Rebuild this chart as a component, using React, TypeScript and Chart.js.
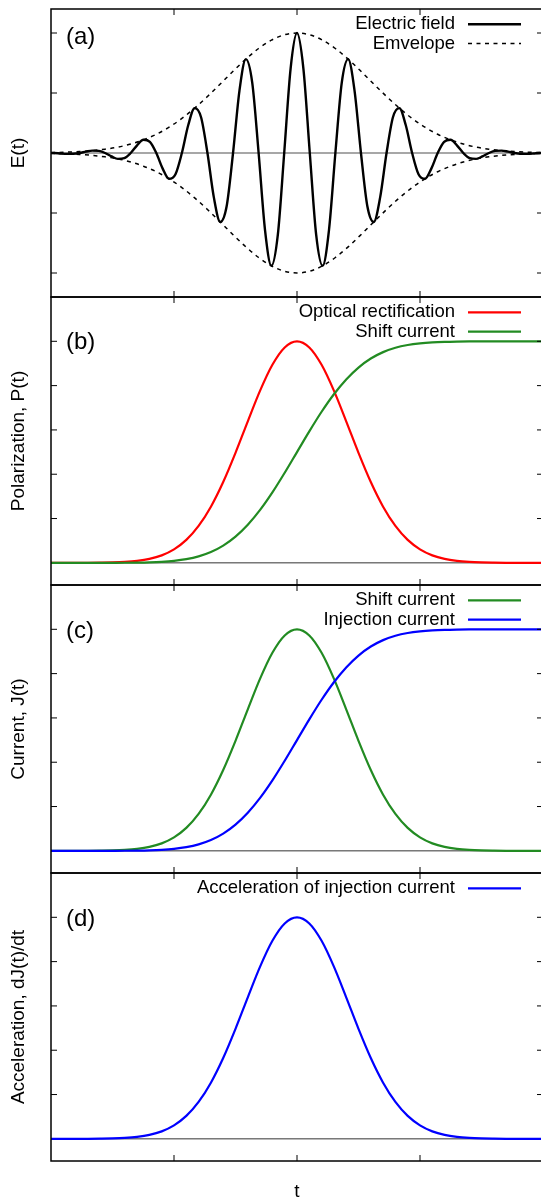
import React, { useEffect, useRef } from "react";
import { Chart, registerables } from "chart.js";

Chart.register(...registerables);

// ---------------- data ----------------
const xTickValues = [-1, 0, 1];
const yTicksField = [-1, -0.5, 0.5, 1];
const yTicksLower = [0.2, 0.4, 0.6, 0.8, 1.0];

const tField = [
  -2, -1.976, -1.924, -1.872, -1.82, -1.768, -1.716, -1.664, -1.612, -1.56,
  -1.508, -1.456, -1.404, -1.352, -1.3, -1.248, -1.196, -1.144, -1.092, -1.04,
  -0.988, -0.936, -0.884, -0.832, -0.78, -0.728, -0.676, -0.624, -0.572, -0.52,
  -0.468, -0.416, -0.364, -0.312, -0.26, -0.208, -0.156, -0.104, -0.052, 0,
  0.052, 0.104, 0.156, 0.208, 0.26, 0.312, 0.364, 0.416, 0.468, 0.52,
  0.572, 0.624, 0.676, 0.728, 0.78, 0.832, 0.884, 0.936, 0.988, 1.04,
  1.092, 1.144, 1.196, 1.248, 1.3, 1.352, 1.404, 1.456, 1.508, 1.56,
  1.612, 1.664, 1.716, 1.768, 1.82, 1.872, 1.924, 1.976, 2,
];

const electricField = [
  0, 0, -0.004, -0.007, -0.006, 0, 0.011, 0.02, 0.018, 0,
  -0.028, -0.049, -0.043, 0, 0.064, 0.11, 0.093, 0, -0.13, -0.215,
  -0.177, 0, 0.233, 0.374, 0.298, 0, -0.37, -0.575, -0.444, 0,
  0.518, 0.782, 0.586, 0, -0.642, -0.94, -0.683, 0, 0.704, 1,
  0.704, 0, -0.683, -0.94, -0.642, 0, 0.586, 0.782, 0.518, 0,
  -0.444, -0.575, -0.37, 0, 0.298, 0.374, 0.233, 0, -0.177, -0.215,
  -0.13, 0, 0.093, 0.11, 0.064, 0, -0.043, -0.049, -0.028, 0,
  0.018, 0.02, 0.011, 0, -0.006, -0.007, -0.004, 0, 0,
];

const tEnvelope = [
  -2, -1.872, -1.768, -1.664, -1.56, -1.456, -1.352, -1.248, -1.144, -1.04,
  -0.936, -0.832, -0.728, -0.624, -0.52, -0.416, -0.312, -0.208, -0.104, 0,
  0.104, 0.208, 0.312, 0.416, 0.52, 0.624, 0.728, 0.832, 0.936, 1.04,
  1.144, 1.248, 1.352, 1.456, 1.56, 1.664, 1.768, 1.872, 2,
];

const envelopeUpper = [
  0.003, 0.007, 0.012, 0.02, 0.032, 0.049, 0.075, 0.11, 0.156, 0.215,
  0.288, 0.374, 0.471, 0.575, 0.681, 0.782, 0.871, 0.94, 0.985, 1,
  0.985, 0.94, 0.871, 0.782, 0.681, 0.575, 0.471, 0.374, 0.288, 0.215,
  0.156, 0.11, 0.075, 0.049, 0.032, 0.02, 0.012, 0.007, 0.003,
];

const envelopeLower = [
  -0.003, -0.007, -0.012, -0.02, -0.032, -0.049, -0.075, -0.11, -0.156, -0.215,
  -0.288, -0.374, -0.471, -0.575, -0.681, -0.782, -0.871, -0.94, -0.985, -1,
  -0.985, -0.94, -0.871, -0.782, -0.681, -0.575, -0.471, -0.374, -0.288, -0.215,
  -0.156, -0.11, -0.075, -0.049, -0.032, -0.02, -0.012, -0.007, -0.003,
];

const tGrid = [
  -2, -1.9, -1.8, -1.7, -1.6, -1.5, -1.4, -1.3, -1.2, -1.1,
  -1, -0.9, -0.8, -0.7, -0.6, -0.5, -0.4, -0.3, -0.2, -0.1,
  0, 0.1, 0.2, 0.3, 0.4, 0.5, 0.6, 0.7, 0.8, 0.9,
  1, 1.1, 1.2, 1.3, 1.4, 1.5, 1.6, 1.7, 1.8, 1.9, 2,
];

const opticalRectification = [
  0, 0, 0.0001, 0.0003, 0.0008, 0.0018, 0.0041, 0.0088, 0.0177, 0.0338,
  0.0608, 0.1035, 0.1666, 0.2536, 0.3649, 0.4966, 0.6389, 0.7773, 0.894, 0.9724,
  1, 0.9724, 0.894, 0.7773, 0.6389, 0.4966, 0.3649, 0.2536, 0.1666, 0.1035,
  0.0608, 0.0338, 0.0177, 0.0088, 0.0041, 0.0018, 0.0008, 0.0003, 0.0001, 0, 0,
];

const shiftPolarization = [
  0, 0, 0, 0, 0.0001, 0.0002, 0.0004, 0.001, 0.0022, 0.0046,
  0.0091, 0.0167, 0.0292, 0.0488, 0.0778, 0.1184, 0.172, 0.2389, 0.318, 0.4065,
  0.5, 0.5935, 0.682, 0.7611, 0.828, 0.8816, 0.9222, 0.9512, 0.9708, 0.9833,
  0.9909, 0.9954, 0.9978, 0.999, 0.9996, 0.9998, 0.9999, 1, 1, 1, 1,
];

const shiftCurrent = [
  0, 0, 0.0001, 0.0003, 0.0008, 0.0018, 0.0041, 0.0088, 0.0177, 0.0338,
  0.0608, 0.1035, 0.1666, 0.2536, 0.3649, 0.4966, 0.6389, 0.7773, 0.894, 0.9724,
  1, 0.9724, 0.894, 0.7773, 0.6389, 0.4966, 0.3649, 0.2536, 0.1666, 0.1035,
  0.0608, 0.0338, 0.0177, 0.0088, 0.0041, 0.0018, 0.0008, 0.0003, 0.0001, 0, 0,
];

const injectionCurrent = [
  0, 0, 0, 0, 0.0001, 0.0002, 0.0004, 0.001, 0.0022, 0.0046,
  0.0091, 0.0167, 0.0292, 0.0488, 0.0778, 0.1184, 0.172, 0.2389, 0.318, 0.4065,
  0.5, 0.5935, 0.682, 0.7611, 0.828, 0.8816, 0.9222, 0.9512, 0.9708, 0.9833,
  0.9909, 0.9954, 0.9978, 0.999, 0.9996, 0.9998, 0.9999, 1, 1, 1, 1,
];

const injectionAcceleration = [
  0, 0, 0.0001, 0.0003, 0.0008, 0.0018, 0.0041, 0.0088, 0.0177, 0.0338,
  0.0608, 0.1035, 0.1666, 0.2536, 0.3649, 0.4966, 0.6389, 0.7773, 0.894, 0.9724,
  1, 0.9724, 0.894, 0.7773, 0.6389, 0.4966, 0.3649, 0.2536, 0.1666, 0.1035,
  0.0608, 0.0338, 0.0177, 0.0088, 0.0041, 0.0018, 0.0008, 0.0003, 0.0001, 0, 0,
];

// ---------------- layout / style ----------------
const FONT = '"Liberation Sans", Arial, Helvetica, sans-serif';
const CANVAS_W = 560;
const CANVAS_H = 1201;
const PLOT_LEFT = 51;
const PLOT_RIGHT = 543;
const TICK = 6;
const RED = "#ff0000";
const GREEN = "#228b22";
const BLUE = "#0000ff";

type LegendItem = { text: string; color: string; width: number; dash?: number[] };
type Panel = {
  top: number;
  bottom: number;
  yMin: number;
  yMax: number;
  yTicks: number[];
  label: string;
  labelY: number;
  yTitle: string;
  xTitle?: string;
  zeroColor: string;
  zeroWidth: number;
  legend: LegendItem[];
  datasets: any[];
};

const pts = (xs: number[], ys: number[]) => xs.map((x, i) => ({ x, y: ys[i] }));

const line = (label: string, xs: number[], ys: number[], color: string, width: number, order: number, dash: number[] = []) => ({
  label,
  data: pts(xs, ys),
  borderColor: color,
  borderWidth: width,
  borderDash: dash,
  pointRadius: 0,
  fill: false,
  cubicInterpolationMode: "monotone",
  order,
});

const ENV_DASH = [4, 4.5];

const panels: Panel[] = [
  {
    top: 9, bottom: 297, yMin: -1.2, yMax: 1.2, yTicks: yTicksField,
    label: "(a)", labelY: 37, yTitle: "E(t)", zeroColor: "#8a8a8a", zeroWidth: 1.5,
    legend: [
      { text: "Electric field", color: "#000", width: 2.4 },
      { text: "Emvelope", color: "#000", width: 1.5, dash: ENV_DASH },
    ],
    datasets: [
      line("Electric field", tField, electricField, "#000", 2.4, 0),
      line("Emvelope", tEnvelope, envelopeUpper, "#000", 1.5, 1, ENV_DASH),
      line("Emvelope (lower)", tEnvelope, envelopeLower, "#000", 1.5, 1, ENV_DASH),
    ],
  },
  {
    top: 297, bottom: 585, yMin: -0.1, yMax: 1.2, yTicks: yTicksLower,
    label: "(b)", labelY: 342, yTitle: "Polarization, P(t)", zeroColor: "#333", zeroWidth: 1,
    legend: [
      { text: "Optical rectification", color: RED, width: 2.2 },
      { text: "Shift current", color: GREEN, width: 2.2 },
    ],
    datasets: [
      line("Optical rectification", tGrid, opticalRectification, RED, 2.2, 1),
      line("Shift current", tGrid, shiftPolarization, GREEN, 2.2, 0),
    ],
  },
  {
    top: 585, bottom: 873, yMin: -0.1, yMax: 1.2, yTicks: yTicksLower,
    label: "(c)", labelY: 631, yTitle: "Current, J(t)", zeroColor: "#333", zeroWidth: 1,
    legend: [
      { text: "Shift current", color: GREEN, width: 2.2 },
      { text: "Injection current", color: BLUE, width: 2.2 },
    ],
    datasets: [
      line("Shift current", tGrid, shiftCurrent, GREEN, 2.2, 1),
      line("Injection current", tGrid, injectionCurrent, BLUE, 2.2, 0),
    ],
  },
  {
    top: 873, bottom: 1161, yMin: -0.1, yMax: 1.2, yTicks: yTicksLower,
    label: "(d)", labelY: 919, yTitle: "Acceleration, dJ(t)/dt", xTitle: "t", zeroColor: "#333", zeroWidth: 1,
    legend: [{ text: "Acceleration of injection current", color: BLUE, width: 2.2 }],
    datasets: [line("Acceleration of injection current", tGrid, injectionAcceleration, BLUE, 2.2, 0)],
  },
];

function makeDeco(p: Panel) {
  return {
    id: "panelDeco",
    beforeDatasetsDraw(chart: any) {
      const { ctx, chartArea: ca, scales } = chart;
      const y0 = scales.y.getPixelForValue(0);
      ctx.save();
      ctx.strokeStyle = p.zeroColor;
      ctx.lineWidth = p.zeroWidth;
      ctx.beginPath();
      ctx.moveTo(ca.left, y0);
      ctx.lineTo(ca.right, y0);
      ctx.stroke();
      ctx.restore();
    },
    afterDatasetsDraw(chart: any) {
      const { ctx, chartArea: ca, scales } = chart;
      ctx.save();
      // tick marks (inward, mirrored)
      ctx.strokeStyle = "#000";
      ctx.lineWidth = 1;
      ctx.beginPath();
      for (const v of xTickValues) {
        const px = scales.x.getPixelForValue(v);
        ctx.moveTo(px, ca.bottom);
        ctx.lineTo(px, ca.bottom - TICK);
        ctx.moveTo(px, ca.top);
        ctx.lineTo(px, ca.top + TICK);
      }
      for (const v of p.yTicks) {
        const py = scales.y.getPixelForValue(v);
        ctx.moveTo(ca.left, py);
        ctx.lineTo(ca.left + TICK, py);
        ctx.moveTo(ca.right, py);
        ctx.lineTo(ca.right - TICK, py);
      }
      ctx.stroke();
      // frame
      ctx.lineWidth = 1.5;
      ctx.strokeRect(ca.left, ca.top, ca.right - ca.left, ca.bottom - ca.top);

      ctx.fillStyle = "#000";
      // panel label
      ctx.font = `24px ${FONT}`;
      ctx.textAlign = "left";
      ctx.textBaseline = "middle";
      ctx.fillText(p.label, 66, p.labelY);

      // key
      ctx.font = `18.5px ${FONT}`;
      ctx.textAlign = "right";
      p.legend.forEach((it, i) => {
        const yy = ca.top + 15.3 + i * 19.3;
        ctx.fillText(it.text, 455, yy);
        ctx.save();
        ctx.strokeStyle = it.color;
        ctx.lineWidth = it.width;
        ctx.setLineDash(it.dash || []);
        ctx.beginPath();
        ctx.moveTo(468, yy);
        ctx.lineTo(521, yy);
        ctx.stroke();
        ctx.restore();
      });

      // y title
      ctx.save();
      ctx.font = `19px ${FONT}`;
      ctx.textAlign = "center";
      ctx.translate(18.6, (ca.top + ca.bottom) / 2);
      ctx.rotate(-Math.PI / 2);
      ctx.fillText(p.yTitle, 0, 0);
      ctx.restore();

      if (p.xTitle) {
        ctx.font = `19px ${FONT}`;
        ctx.textAlign = "center";
        ctx.fillText(p.xTitle, scales.x.getPixelForValue(0), 1192);
      }
      ctx.restore();
    },
  };
}

export default function App() {
  const canvases = useRef<(HTMLCanvasElement | null)[]>([]);

  useEffect(() => {
    const charts = panels.map((p, i) =>
      new Chart(canvases.current[i] as HTMLCanvasElement, {
        type: "line",
        data: { datasets: p.datasets },
        options: {
          responsive: false,
          animation: false,
          devicePixelRatio: 1,
          events: [],
          layout: {
            padding: { left: PLOT_LEFT, right: CANVAS_W - PLOT_RIGHT, top: p.top, bottom: CANVAS_H - p.bottom },
          },
          scales: {
            x: { type: "linear", min: -2, max: 2, display: false },
            y: { type: "linear", min: p.yMin, max: p.yMax, display: false },
          },
          plugins: { legend: { display: false }, tooltip: { enabled: false }, title: { display: false } },
        },
        plugins: [makeDeco(p)],
      } as any)
    );
    return () => charts.forEach((c) => c.destroy());
  }, []);

  return (
    <div style={{ position: "absolute", left: 0, top: 0, width: 541, height: 1201, overflow: "hidden", background: "#fff" }}>
      {panels.map((_, i) => (
        <canvas
          key={i}
          ref={(el) => {
            canvases.current[i] = el;
          }}
          width={CANVAS_W}
          height={CANVAS_H}
          style={{ position: "absolute", left: 0, top: 0, width: CANVAS_W, height: CANVAS_H }}
        />
      ))}
    </div>
  );
}
